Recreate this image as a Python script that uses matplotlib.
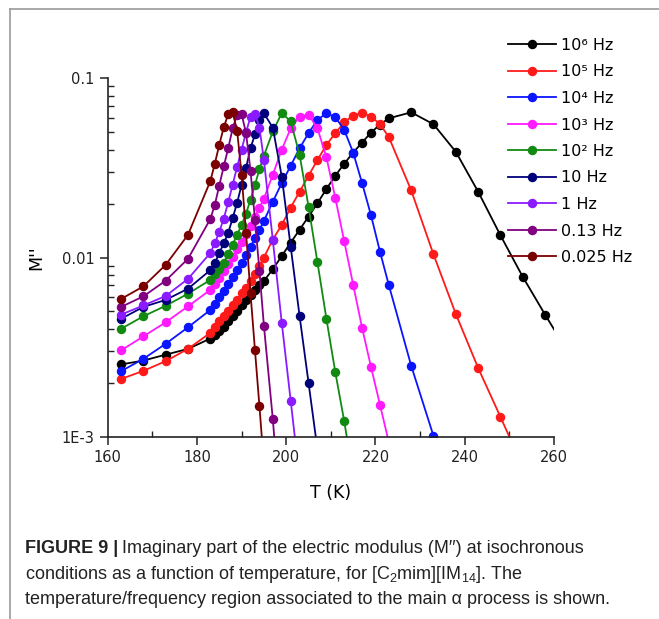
import matplotlib as mpl
import matplotlib.pyplot as plt
from matplotlib.lines import Line2D
from matplotlib.ticker import FixedLocator, FixedFormatter, MultipleLocator, LogLocator, NullFormatter

''' Isochronal M'' curves for [C2mim][IM14] '''

# temperature grid of the isochronal cuts (K)
temps = [163, 168, 173, 178, 183, 184, 185, 186, 187, 188, 189, 190, 191, 192,
         193, 194, 195, 197, 199, 201, 203, 205, 207, 209, 211, 213, 215, 217,
         219, 221, 223, 228, 233, 238, 243, 248, 253, 258, 263]

labels = ['10\u2076 Hz', '10\u2075 Hz', '10\u2074 Hz', '10\u00b3 Hz', '10\u00b2 Hz',
          '10 Hz', '1 Hz', '0.13 Hz', '0.025 Hz']
colors = ['black', '#ff1a1a', '#0a14ff', '#ff1aff', '#128a12',
          '#00007a', '#8a1aff', '#800080', '#7a0000']

# M'' values, each list starts at the first temperature of the grid
m_1e6 = [0.00253, 0.00266, 0.00287, 0.00309, 0.00353, 0.0037, 0.0039, 0.0041, 0.0044,
         0.0047, 0.0050, 0.0054, 0.0058, 0.0062, 0.0066, 0.0070, 0.0074, 0.0086, 0.0102,
         0.0121, 0.0143, 0.0169, 0.0201, 0.0241, 0.0286, 0.0334, 0.0385, 0.0438, 0.0498,
         0.0552, 0.0598, 0.0646, 0.0554, 0.0389, 0.0233, 0.0133, 0.0078, 0.0048, 0.0030]
m_1e5 = [0.0021, 0.00233, 0.00264, 0.00309, 0.0038, 0.0041, 0.0044, 0.0047, 0.0050,
         0.0054, 0.0058, 0.0063, 0.0068, 0.0074, 0.0081, 0.0090, 0.0100, 0.0126, 0.0152,
         0.0190, 0.0233, 0.0286, 0.0350, 0.0425, 0.0494, 0.0569, 0.0619, 0.0643, 0.0611,
         0.0556, 0.0469, 0.0237, 0.0104, 0.00484, 0.00242, 0.00129, 0.00068]
m_1e4 = [0.00232, 0.00272, 0.0033, 0.00408, 0.0051, 0.0055, 0.0060, 0.0065, 0.0071,
         0.0078, 0.0085, 0.0093, 0.0103, 0.0115, 0.0128, 0.0143, 0.0160, 0.0205, 0.0260,
         0.0325, 0.0407, 0.0494, 0.0586, 0.0638, 0.0607, 0.0515, 0.0385, 0.0260, 0.0172,
         0.0108, 0.0070, 0.00249, 0.00101, 0.0004]
m_1e3 = [0.00303, 0.00363, 0.00435, 0.00534, 0.0066, 0.0071, 0.0077, 0.0084, 0.0092,
         0.0101, 0.0111, 0.0122, 0.0135, 0.0150, 0.0168, 0.0190, 0.0213, 0.0290, 0.0400,
         0.0525, 0.0612, 0.0628, 0.0526, 0.0363, 0.0215, 0.0123, 0.00705, 0.00405,
         0.00245, 0.00151, 0.00093]
m_1e2 = [0.0040, 0.0047, 0.00538, 0.00628, 0.0075, 0.0081, 0.0086, 0.0093, 0.0105,
         0.0118, 0.0134, 0.0152, 0.0176, 0.0210, 0.0255, 0.0310, 0.0370, 0.0505, 0.0640,
         0.0575, 0.0374, 0.0192, 0.0094, 0.00456, 0.00229, 0.00122, 0.0006]
m_10 = [0.00455, 0.0053, 0.0058, 0.0067, 0.0085, 0.0093, 0.0106, 0.0120, 0.0137,
        0.0166, 0.0202, 0.0254, 0.0317, 0.0407, 0.0487, 0.0586, 0.0638, 0.0530, 0.0283,
        0.0115, 0.0047, 0.0020, 0.00085]
m_1 = [0.0048, 0.0054, 0.0061, 0.0076, 0.0106, 0.0120, 0.0139, 0.0165, 0.0203,
       0.0255, 0.0320, 0.0400, 0.0500, 0.0610, 0.0635, 0.0530, 0.0350, 0.0125, 0.00432,
       0.00159, 0.00058]
m_013 = [0.0053, 0.00607, 0.00743, 0.00984, 0.0164, 0.0197, 0.0252, 0.0322, 0.0407,
         0.0526, 0.0625, 0.0632, 0.0494, 0.0305, 0.0162, 0.0084, 0.00417, 0.00125, 0.0003]
m_0025 = [0.00587, 0.0069, 0.0091, 0.0134, 0.0267, 0.0334, 0.0425, 0.0533, 0.0630,
          0.0645, 0.0510, 0.0289, 0.0137, 0.0063, 0.00303, 0.00148, 0.0007]

series = [m_1e6, m_1e5, m_1e4, m_1e3, m_1e2, m_10, m_1, m_013, m_0025]

W, H = 659, 619
fig = plt.figure(figsize=(W / 100, H / 100), dpi=100)
ax = fig.add_axes([107.7 / W, 1 - 436.7 / H, (554 - 107.7) / W, (436.7 - 78.3) / H])

for m, c, lab in zip(series, colors, labels):
    ax.plot(temps[:len(m)], m, '-o', color=c, lw=1.3, ms=5.8, label=lab)

ax.set_yscale('log')
ax.set_xlim(160, 260)
ax.set_ylim(1e-3, 0.1)

ax.xaxis.set_major_locator(MultipleLocator(20))
ax.xaxis.set_minor_locator(MultipleLocator(10))
ax.yaxis.set_major_locator(FixedLocator([1e-3, 1e-2, 1e-1]))
ax.yaxis.set_major_formatter(FixedFormatter(['1E-3', '0.01', '0.1']))
ax.yaxis.set_minor_locator(LogLocator(base=10, subs=range(2, 10)))
ax.yaxis.set_minor_formatter(NullFormatter())
ax.tick_params(which='major', direction='out', length=6, width=1.1, labelsize=10.5,
               colors='#222222')
ax.tick_params(which='minor', direction='in', length=4, width=1.0, colors='#222222')

for side in ['top', 'right']:
    ax.spines[side].set_visible(False)
for side in ['left', 'bottom']:
    ax.spines[side].set_linewidth(1.2)
    ax.spines[side].set_color('#222222')

ax.set_xlabel('T (K)', fontsize=12.5, labelpad=14)
ax.set_ylabel("M''", fontsize=12.5, labelpad=12)

ax.legend(loc='upper left', bbox_to_anchor=(508 / W, 1 - 38 / H),
          bbox_transform=fig.transFigure, frameon=False, numpoints=1,
          handlelength=3.0, handletextpad=0.3, labelspacing=0.72,
          borderpad=0, borderaxespad=0, fontsize=11.5)

# caption below the chart
cap_font = 'Liberation Sans'
cap_kw = dict(fontsize=13, family=cap_font, color='#222222', va='baseline')
head = fig.text(25 / W, 1 - 553 / H, 'FIGURE 9 |', fontweight='bold', **cap_kw)
fig.canvas.draw()
head_box = head.get_window_extent(fig.canvas.get_renderer())
fig.text((head_box.x1 + 4) / W, 1 - 553 / H,
         'Imaginary part of the electric modulus (M\u2032\u2032) at isochronous', **cap_kw)
fig.text(25 / W, 1 - 579 / H,
         r'conditions as a function of temperature, for [C$\mathregular{_2}$mim][IM$\mathregular{_{14}}$]. The',
         **cap_kw)
fig.text(25 / W, 1 - 604 / H,
         'temperature/frequency region associated to the main \u03b1 process is shown.',
         **cap_kw)

# thin border at the top and left of the panel
fig.add_artist(Line2D([10 / W, 10 / W], [0, 1 - 9 / H], transform=fig.transFigure,
                      color='#9a9a9a', lw=1.2))
fig.add_artist(Line2D([10 / W, 1], [1 - 9 / H, 1 - 9 / H], transform=fig.transFigure,
                      color='#9a9a9a', lw=1.2))

fig.savefig('out.png', dpi=100)
